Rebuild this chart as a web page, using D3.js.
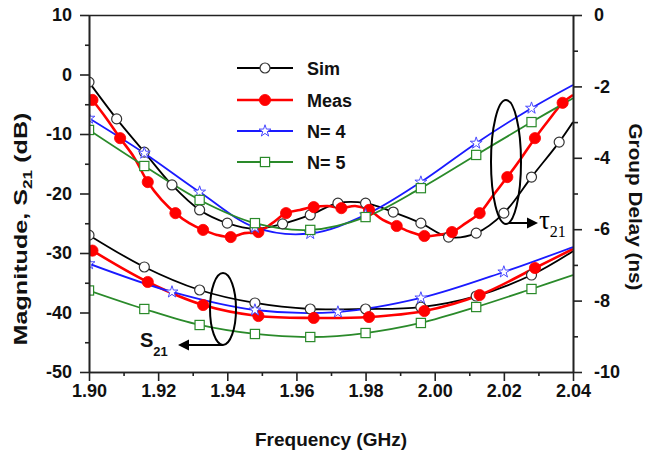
<!DOCTYPE html>
<html><head><meta charset="utf-8">
<script src="https://cdn.jsdelivr.net/npm/d3@7"></script>
<style>html,body{margin:0;padding:0;background:#fff;} svg{display:block;}</style>
</head><body>
<svg id="c" width="646" height="456"></svg>
<script>
// ---------- data ----------
const xMajorTicks = [1.90, 1.92, 1.94, 1.96, 1.98, 2.00, 2.02, 2.04];
const xMinorTicks = [1.91, 1.93, 1.95, 1.97, 1.99, 2.01, 2.03];
const leftMajorTicks = [10, 0, -10, -20, -30, -40, -50];
const leftMinorTicks = [5, -5, -15, -25, -35, -45];
const rightMajorTicks = [0, -2, -4, -6, -8, -10];
const rightMinorTicks = [-1, -3, -5, -7, -9];
const legendLabels = ["Sim", "Meas", "N= 4", "N= 5"];

// group delay (ns), right axis
const simTauF = [1.900,1.908,1.916,1.924,1.932,1.940,1.948,1.956,1.964,1.972,1.980,1.988,1.996,2.004,2.012,2.020,2.028,2.036,2.040];
const simTau  = [-1.88,-2.91,-3.84,-4.76,-5.46,-5.83,-5.99,-5.85,-5.60,-5.27,-5.27,-5.52,-5.83,-6.22,-6.11,-5.55,-4.54,-3.56,-3.00];
const measTauF = [1.901,1.905,1.909,1.913,1.917,1.921,1.925,1.929,1.933,1.937,1.941,1.945,1.949,1.953,1.957,1.961,1.965,1.969,1.973,1.977,1.981,1.985,1.989,1.993,1.997,2.001,2.005,2.009,2.013,2.017,2.021,2.025,2.029,2.033,2.037,2.040];
const measTau  = [-2.38,-2.89,-3.45,-3.98,-4.68,-5.18,-5.55,-5.83,-6.02,-6.16,-6.22,-6.11,-6.08,-5.83,-5.55,-5.46,-5.38,-5.35,-5.41,-5.35,-5.46,-5.74,-5.91,-6.08,-6.19,-6.16,-6.08,-5.83,-5.55,-5.04,-4.54,-4.01,-3.45,-2.94,-2.46,-2.24];
const n4TauF = [1.900,1.916,1.932,1.948,1.964,1.980,1.996,2.012,2.028,2.040];
const n4Tau  = [-2.89,-3.87,-4.96,-5.95,-6.12,-5.60,-4.68,-3.59,-2.61,-1.96];
const n5TauF = [1.900,1.916,1.932,1.948,1.964,1.980,1.996,2.012,2.028,2.040];
const n5Tau  = [-3.22,-4.23,-5.18,-5.83,-6.02,-5.66,-4.85,-3.92,-3.00,-2.33];

// magnitude S21 (dB), left axis
const simS21F = [1.900,1.916,1.932,1.948,1.964,1.980,1.996,2.012,2.028,2.040];
const simS21  = [-27.0,-32.35,-36.22,-38.40,-39.41,-39.41,-39.08,-37.23,-33.70,-29.7];
const measS21F = [1.901,1.917,1.933,1.949,1.965,1.981,1.997,2.013,2.029,2.040];
const measS21  = [-29.6,-34.87,-38.74,-40.59,-40.92,-40.76,-39.75,-37.06,-32.52,-29.33];
const n4S21F = [1.900,1.924,1.948,1.972,1.996,2.020,2.040];
const n4S21  = [-31.8,-36.55,-39.58,-39.92,-37.56,-33.19,-28.99];
const n5S21F = [1.900,1.916,1.932,1.948,1.964,1.980,1.996,2.012,2.028,2.040];
const n5S21  = [-36.3,-39.41,-42.10,-43.61,-44.12,-43.45,-41.76,-39.08,-36.05,-33.70];

// ---------- setup ----------
const FONT = "Arial, 'Liberation Sans', Helvetica, sans-serif";
const SERIF = "'Times New Roman', 'Liberation Serif', serif";
const AX = "#222";
const svg = d3.select("#c");
const x = d3.scaleLinear().domain([1.90, 2.04]).range([89, 573]);
const yL = d3.scaleLinear().domain([-50, 10]).range([372, 15]);
const yR = d3.scaleLinear().domain([-10, 0]).range([372, 15]);

const styles = {
  Sim:  {color:"#000000", width:1.8, marker:"circle"},
  Meas: {color:"#ff0000", width:2.6, marker:"dot"},
  "N= 4": {color:"#1a1aff", width:1.8, marker:"star"},
  "N= 5": {color:"#2a8a2a", width:1.8, marker:"square"}
};

const zip = (f, v) => f.map((d, i) => [d, v[i]]);
const series = [
  {name:"Sim",  y:yR, pts:zip(simTauF, simTau)},
  {name:"Meas", y:yR, pts:zip(measTauF, measTau), step:2},
  {name:"N= 4", y:yR, pts:zip(n4TauF, n4Tau)},
  {name:"N= 5", y:yR, pts:zip(n5TauF, n5Tau)},
  {name:"Sim",  y:yL, pts:zip(simS21F, simS21)},
  {name:"Meas", y:yL, pts:zip(measS21F, measS21)},
  {name:"N= 4", y:yL, pts:zip(n4S21F, n4S21)},
  {name:"N= 5", y:yL, pts:zip(n5S21F, n5S21)}
];

svg.append("defs").append("clipPath").attr("id","clip")
  .append("rect").attr("x", x(1.90)).attr("y", yL(10)).attr("width", x(2.04)-x(1.90)).attr("height", yL(-50)-yL(10));

function drawMarker(g, type, cx, cy) {
  const st = styles[type];
  if (st.marker === "circle") {
    g.append("circle").attr("cx",cx).attr("cy",cy).attr("r",5)
      .attr("fill","#fff").attr("stroke","#333").attr("stroke-width",1.2);
  } else if (st.marker === "dot") {
    g.append("circle").attr("cx",cx).attr("cy",cy).attr("r",5.6)
      .attr("fill",st.color).attr("stroke",st.color).attr("stroke-width",0.8);
  } else if (st.marker === "star") {
    g.append("path").attr("d", d3.symbol(d3.symbolStar, 44)())
      .attr("transform",`translate(${cx},${cy})`)
      .attr("fill","#fff").attr("stroke","#4a4aff").attr("stroke-width",1);
  } else {
    g.append("rect").attr("x",cx-4.6).attr("y",cy-4.6).attr("width",9.2).attr("height",9.2)
      .attr("fill","#fff").attr("stroke",st.color).attr("stroke-width",1.2);
  }
}

const plot = svg.append("g").attr("clip-path","url(#clip)");
const lineLayer = plot.append("g");
const markLayer = plot.append("g");
series.forEach(s => {
  const st = styles[s.name];
  const gen = d3.line().x(d => x(d[0])).y(d => s.y(d[1])).curve(d3.curveCatmullRom.alpha(0.5));
  lineLayer.append("path").attr("d", gen(s.pts)).attr("fill","none")
    .attr("stroke", st.color).attr("stroke-width", st.width).attr("stroke-linejoin","round");
  const step = s.step || 1;
  s.pts.forEach((d, i) => {
    if (i === s.pts.length - 1) return; // end point has no marker
    if (i % step !== 0) return;
    drawMarker(markLayer, s.name, x(d[0]), s.y(d[1]));
  });
});

// ---------- axes ----------
function styleAxis(g, size) {
  g.select(".domain").attr("stroke", AX).attr("stroke-width", 1.6);
  g.selectAll(".tick line").attr("stroke", AX).attr("stroke-width", 1.6);
  g.selectAll(".tick text").attr("font-family", FONT).attr("font-weight","bold")
    .attr("font-size", size || 18).attr("fill","#111");
}
const bx = d3.axisBottom(x).tickValues(xMajorTicks).tickSize(9).tickSizeOuter(0).tickPadding(3).tickFormat(d3.format(".2f"));
const bxm = d3.axisBottom(x).tickValues(xMinorTicks).tickSize(4).tickSizeOuter(0).tickFormat("");
svg.append("g").attr("transform",`translate(0,${yL(-50)})`).call(bxm).call(g => styleAxis(g));
svg.append("g").attr("transform",`translate(0,${yL(-50)})`).call(bx).call(g => styleAxis(g));

const lx = d3.axisLeft(yL).tickValues(leftMajorTicks).tickSize(9).tickSizeOuter(0).tickPadding(8).tickFormat(d => String(d));
const lxm = d3.axisLeft(yL).tickValues(leftMinorTicks).tickSize(4).tickSizeOuter(0).tickFormat("");
svg.append("g").attr("transform",`translate(${x(1.90)},0)`).call(lxm).call(g => styleAxis(g));
svg.append("g").attr("transform",`translate(${x(1.90)},0)`).call(lx).call(g => styleAxis(g));

const rx = d3.axisRight(yR).tickValues(rightMajorTicks).tickSize(9).tickSizeOuter(0).tickPadding(12).tickFormat(d => String(d));
const rxm = d3.axisRight(yR).tickValues(rightMinorTicks).tickSize(5).tickSizeOuter(0).tickFormat("");
svg.append("g").attr("transform",`translate(${x(2.04)},0)`).call(rxm).call(g => styleAxis(g));
svg.append("g").attr("transform",`translate(${x(2.04)},0)`).call(rx).call(g => styleAxis(g));

svg.append("line").attr("x1", x(1.90)).attr("x2", x(2.04)).attr("y1", yL(10)+0.5).attr("y2", yL(10)+0.5)
  .attr("stroke", AX).attr("stroke-width", 1.6);

// axis titles
svg.append("text").attr("x", 331).attr("y", 446).attr("text-anchor","middle")
  .attr("font-family", FONT).attr("font-weight","bold").attr("font-size",19).attr("fill","#111")
  .text("Frequency (GHz)");

const lt = svg.append("text").attr("transform","translate(27,229) rotate(-90)").attr("text-anchor","middle")
  .attr("font-family", FONT).attr("font-weight","bold").attr("font-size",19).attr("fill","#111")
  .attr("textLength", 233).attr("lengthAdjust","spacingAndGlyphs");
lt.append("tspan").text("Magnitude, S");
lt.append("tspan").attr("dy",5).attr("font-size",13).text("21");
lt.append("tspan").attr("dy",-5).text(" (dB)");

svg.append("text").attr("transform","translate(629,207) rotate(90)").attr("text-anchor","middle")
  .attr("font-family", FONT).attr("font-weight","bold").attr("font-size",19).attr("fill","#111")
  .attr("textLength", 167).attr("lengthAdjust","spacingAndGlyphs")
  .text("Group Delay (ns)");

// ---------- legend ----------
const legY = [68, 100, 131, 162];
legendLabels.forEach((name, i) => {
  const st = styles[name];
  const g = svg.append("g");
  g.append("line").attr("x1",237).attr("x2",293).attr("y1",legY[i]).attr("y2",legY[i])
    .attr("stroke", st.color).attr("stroke-width", st.width);
  drawMarker(g, name, 265, legY[i]);
  g.append("text").attr("x",307).attr("y",legY[i]+6.5)
    .attr("font-family", FONT).attr("font-weight","bold").attr("font-size",18).attr("fill","#111")
    .text(name);
});

// ---------- annotations ----------
const ann = svg.append("g");
ann.append("ellipse").attr("cx",506).attr("cy",162).attr("rx",15).attr("ry",62)
  .attr("fill","none").attr("stroke","#000").attr("stroke-width",2);
ann.append("line").attr("x1",509).attr("x2",529).attr("y1",223).attr("y2",223).attr("stroke","#000").attr("stroke-width",2);
ann.append("polygon").attr("points","538,223 527,217.5 527,228.5").attr("fill","#000");
const tau = ann.append("text").attr("x",539).attr("y",229).attr("font-family",SERIF).attr("font-size",27).attr("fill","#000");
tau.append("tspan").text("τ");
tau.append("tspan").attr("dy",8).attr("font-size",16).text("21");

ann.append("ellipse").attr("cx",223).attr("cy",309).attr("rx",13).attr("ry",36)
  .attr("fill","none").attr("stroke","#000").attr("stroke-width",2);
ann.append("line").attr("x1",223).attr("x2",187).attr("y1",345).attr("y2",345).attr("stroke","#000").attr("stroke-width",2);
ann.append("polygon").attr("points","178,345 189,339.5 189,350.5").attr("fill","#000");
const s21 = ann.append("text").attr("x",140).attr("y",347).attr("font-family",FONT).attr("font-weight","bold").attr("font-size",20).attr("fill","#111");
s21.append("tspan").text("S");
s21.append("tspan").attr("dy",9).attr("font-size",13).text("21");
</script>
</body></html>
